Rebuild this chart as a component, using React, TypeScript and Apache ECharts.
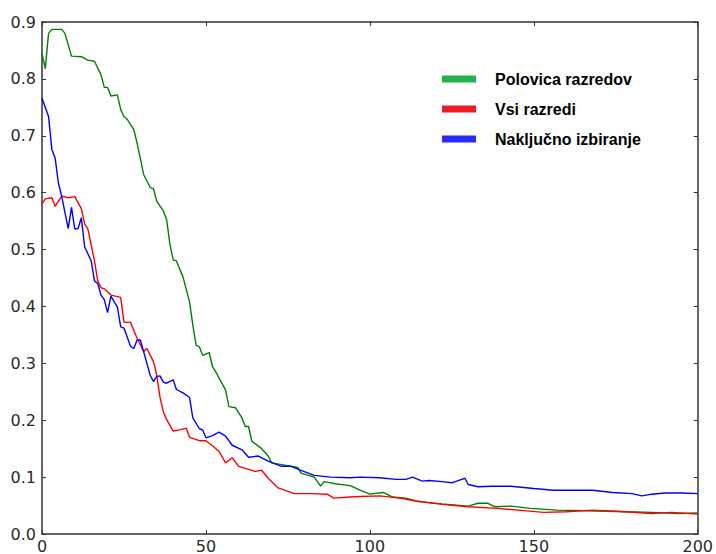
import React, { useEffect, useRef } from "react";
import * as echarts from "echarts";

const seriesNames = ["Polovica razredov", "Vsi razredi", "Naključno izbiranje"];
const lineColors = ["#008000", "#ff0000", "#0000ff"];
const legendColors = ["#22b14c", "#ed1c24", "#2a2aff"];

const xTicks = [0, 50, 100, 150, 200];
const yTicks = [0.0, 0.1, 0.2, 0.3, 0.4, 0.5, 0.6, 0.7, 0.8, 0.9];

const greenX = [0, 1, 2, 3, 6, 7, 9, 12, 14, 16, 18, 19, 20, 21, 23, 24, 25, 26, 28, 29, 31, 33, 34, 35, 37, 38, 39, 40, 41, 43, 45, 46, 47, 48, 49, 51, 52, 53, 56, 57, 59, 61, 62, 63, 64, 67, 69, 70, 74, 78, 79, 83, 85, 86, 90, 94, 97, 100, 104, 107, 111, 115, 122, 130, 133, 136, 138, 143, 149, 157, 166, 178, 186, 194, 200];
const greenY = [0.845, 0.818, 0.88, 0.887, 0.887, 0.88, 0.84, 0.839, 0.833, 0.831, 0.807, 0.785, 0.785, 0.77, 0.772, 0.746, 0.734, 0.729, 0.711, 0.687, 0.632, 0.609, 0.607, 0.585, 0.568, 0.553, 0.51, 0.482, 0.48, 0.452, 0.408, 0.367, 0.332, 0.329, 0.314, 0.319, 0.294, 0.285, 0.253, 0.224, 0.222, 0.204, 0.189, 0.189, 0.163, 0.15, 0.137, 0.125, 0.121, 0.117, 0.107, 0.1, 0.084, 0.092, 0.088, 0.085, 0.077, 0.07, 0.073, 0.065, 0.063, 0.057, 0.053, 0.049, 0.054, 0.054, 0.048, 0.049, 0.045, 0.042, 0.041, 0.039, 0.038, 0.036, 0.037];

const redX = [0, 1, 3, 4, 6, 8, 10, 12, 13, 14, 16, 17, 18, 19, 21, 24, 25, 27, 29, 31, 32, 34, 35, 36, 37, 38, 40, 42, 44, 45, 48, 50, 52, 54, 56, 58, 60, 65, 67, 69, 72, 77, 82, 87, 89, 94, 97, 103, 109, 114, 122, 130, 139, 147, 153, 160, 168, 178, 186, 192, 200];
const redY = [0.58, 0.589, 0.591, 0.576, 0.594, 0.591, 0.593, 0.572, 0.545, 0.536, 0.48, 0.445, 0.433, 0.431, 0.42, 0.416, 0.372, 0.372, 0.344, 0.321, 0.326, 0.303, 0.279, 0.24, 0.215, 0.201, 0.181, 0.183, 0.186, 0.17, 0.164, 0.164, 0.155, 0.145, 0.125, 0.134, 0.119, 0.11, 0.112, 0.098, 0.081, 0.071, 0.071, 0.07, 0.063, 0.065, 0.066, 0.067, 0.063, 0.058, 0.052, 0.048, 0.045, 0.041, 0.038, 0.039, 0.042, 0.039, 0.036, 0.038, 0.035];

const blueX = [0, 2, 3, 4, 5, 6, 7, 8, 9, 10, 11, 12, 13, 15, 16, 17, 18, 19, 20, 21, 23, 24, 25, 27, 28, 29, 30, 32, 33, 34, 35, 36, 37, 38, 40, 41, 43, 45, 46, 48, 49, 50, 52, 54, 56, 58, 61, 63, 66, 67, 69, 73, 76, 79, 83, 88, 94, 97, 103, 108, 111, 113, 116, 118, 122, 125, 128, 129, 130, 133, 137, 143, 150, 156, 168, 174, 180, 183, 186, 190, 195, 200];
const blueY = [0.766, 0.734, 0.676, 0.661, 0.617, 0.594, 0.565, 0.537, 0.574, 0.536, 0.537, 0.556, 0.505, 0.48, 0.445, 0.44, 0.42, 0.412, 0.389, 0.418, 0.399, 0.364, 0.362, 0.33, 0.326, 0.341, 0.341, 0.3, 0.279, 0.268, 0.277, 0.278, 0.267, 0.265, 0.271, 0.254, 0.248, 0.24, 0.204, 0.185, 0.183, 0.169, 0.173, 0.179, 0.172, 0.156, 0.148, 0.135, 0.137, 0.134, 0.128, 0.119, 0.119, 0.112, 0.103, 0.1, 0.099, 0.1, 0.099, 0.096, 0.096, 0.1, 0.093, 0.094, 0.092, 0.09, 0.096, 0.098, 0.087, 0.083, 0.084, 0.084, 0.08, 0.077, 0.077, 0.073, 0.071, 0.067, 0.07, 0.072, 0.072, 0.071];

const zip = (xs: number[], ys: number[]) => xs.map((x, i) => [x, ys[i]]);

export default function App() {
  const ref = useRef<HTMLDivElement>(null);
  useEffect(() => {
    if (!ref.current) return;
    const chart = echarts.init(ref.current, null, { renderer: "svg" });
    const axisCommon = {
      axisLine: { show: true, onZero: false, lineStyle: { color: "#333", width: 1.5 } },
      axisTick: { show: true, inside: true, length: 4, lineStyle: { color: "#333", width: 1 } },
      splitLine: { show: false },
    };
    const labelStyle = {
      fontFamily: "DejaVu Sans",
      fontSize: 16,
      color: "#2a2a2a",
    };
    chart.setOption({
      animation: false,
      backgroundColor: "#fff",
      grid: { left: 42, top: 22, width: 657, height: 515, containLabel: false },
      legend: {
        left: 437,
        top: 66,
        orient: "vertical",
        icon: "rect",
        itemWidth: 34,
        itemHeight: 7,
        itemGap: 14,
        textStyle: {
          fontFamily: "Liberation Sans",
          fontWeight: "bold",
          fontSize: 16,
          color: "#000",
          padding: [0, 0, 0, 14],
          lineHeight: 16,
        },
        data: seriesNames.map((n, i) => ({ name: n, itemStyle: { color: legendColors[i] } })),
      },
      xAxis: [
        {
          type: "value",
          min: xTicks[0],
          max: xTicks[xTicks.length - 1],
          interval: 50,
          position: "bottom",
          ...axisCommon,
          axisLabel: { ...labelStyle, margin: 4 },
        },
        {
          type: "value",
          min: xTicks[0],
          max: xTicks[xTicks.length - 1],
          interval: 50,
          position: "top",
          ...axisCommon,
          axisLabel: { show: false },
        },
      ],
      yAxis: [
        {
          type: "value",
          min: yTicks[0],
          max: yTicks[yTicks.length - 1],
          interval: 0.1,
          position: "left",
          ...axisCommon,
          axisLabel: { ...labelStyle, margin: 6, formatter: (v: number) => v.toFixed(1) },
        },
        {
          type: "value",
          min: yTicks[0],
          max: yTicks[yTicks.length - 1],
          interval: 0.1,
          position: "right",
          ...axisCommon,
          axisLabel: { show: false },
        },
      ],
      series: [
        { name: seriesNames[0], data: zip(greenX, greenY) },
        { name: seriesNames[1], data: zip(redX, redY) },
        { name: seriesNames[2], data: zip(blueX, blueY) },
      ].map((s, i) => ({
        ...s,
        type: "line",
        xAxisIndex: 0,
        yAxisIndex: 0,
        showSymbol: false,
        symbol: "none",
        lineStyle: { color: lineColors[i], width: 1.4 },
        itemStyle: { color: lineColors[i] },
      })),
    });
    return () => chart.dispose();
  }, []);
  return (
    <div
      ref={ref}
      style={{ position: "fixed", left: 0, top: 0, width: 716, height: 554, background: "#fff" }}
    />
  );
}
